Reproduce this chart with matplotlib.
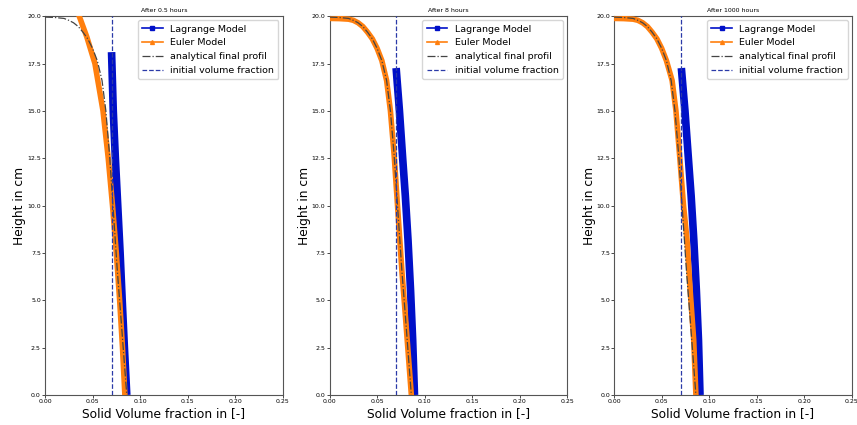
import numpy as np
import matplotlib.pyplot as plt
from matplotlib.lines import Line2D

# panel titles
titles = ['After 0.5 hours', 'After 8 hours', 'After 1000 hours']
phi_init = 0.07

# Lagrange model (solid volume fraction, height in cm)
lag_phi = [
    [0.0700, 0.0718, 0.0740, 0.0765, 0.0790, 0.0812, 0.0835, 0.0860],
    [0.0700, 0.0735, 0.0768, 0.0797, 0.0825, 0.0852, 0.0874, 0.0893],
    [0.0707, 0.0745, 0.0780, 0.0810, 0.0838, 0.0865, 0.0887, 0.0903],
]
lag_h = [
    [18.1, 15.0, 12.5, 10.0, 7.5, 5.0, 2.5, 0.0],
    [17.26, 15.0, 12.56, 10.5, 8.18, 5.5, 2.9, 0.0],
    [17.26, 15.0, 12.56, 10.5, 8.18, 5.5, 2.9, 0.0],
]

# Euler model
eul_phi = [
    [0.036, 0.044, 0.0525, 0.061, 0.0665, 0.071, 0.075, 0.0785, 0.0815, 0.084],
    [0.000, 0.010, 0.020, 0.025, 0.030, 0.035, 0.040, 0.045, 0.050, 0.055,
     0.060, 0.064, 0.068, 0.072, 0.076, 0.080, 0.083, 0.086],
    [0.000, 0.010, 0.020, 0.025, 0.030, 0.035, 0.040, 0.045, 0.050, 0.055,
     0.061, 0.065, 0.069, 0.073, 0.0767, 0.080, 0.0837, 0.086],
]
eul_h = [
    [20.0, 18.9, 17.5, 15.0, 12.5, 10.0, 7.5, 5.0, 2.5, 0.0],
    [19.88, 19.87, 19.84, 19.78, 19.65, 19.45, 19.15, 18.8, 18.3, 17.65,
     16.6, 15.0, 12.6, 9.6, 6.6, 4.0, 2.0, 0.0],
    [19.88, 19.87, 19.84, 19.78, 19.65, 19.45, 19.15, 18.8, 18.3, 17.65,
     16.6, 15.0, 12.56, 10.0, 8.18, 5.5, 2.9, 0.0],
]

# analytical final profile
ana_phi = [0.000, 0.010, 0.020, 0.025, 0.030, 0.035, 0.040, 0.045, 0.050, 0.055,
           0.060, 0.064, 0.068, 0.072, 0.076, 0.080, 0.083, 0.086]
ana_h = [19.95, 19.93, 19.88, 19.78, 19.65, 19.45, 19.15, 18.8, 18.3, 17.65,
         16.6, 15.0, 12.6, 9.6, 6.6, 4.0, 2.0, 0.0]

blue = '#0010c8'
orange = '#ff7f0e'
dash_blue = '#2b3aa8'

fig, axs = plt.subplots(1, 3, figsize=(8.57, 4.25), dpi=100)
fig.subplots_adjust(left=0.0525, right=0.994, bottom=0.0706, top=0.962, wspace=0.197)

for i, ax in enumerate(axs):
    ax.plot(ana_phi, ana_h, '-.', color='#444444', lw=0.9, zorder=4)
    ax.plot(eul_phi[i], eul_h[i], '-', color=orange, lw=4, zorder=3)
    ax.plot(lag_phi[i], lag_h[i], '-', color=blue, lw=5.5, zorder=2, solid_capstyle='butt')
    ax.axvline(phi_init, color=dash_blue, ls='--', lw=0.9, zorder=5)

    ax.set_xlim(0, 0.25)
    ax.set_ylim(0, 20)
    ax.set_xticks(np.arange(0, 0.26, 0.05))
    ax.set_yticks(np.arange(0, 20.1, 2.5))
    ax.tick_params(labelsize=4.5, length=2, width=0.5, pad=1)
    for s in ax.spines.values():
        s.set_color('#555555')
        s.set_linewidth(0.8)
    ax.set_title(titles[i], fontsize=4.5, pad=3)
    ax.set_xlabel('Solid Volume fraction in [-]', fontsize=8.8, labelpad=2)
    ax.set_ylabel('Height in cm', fontsize=8.8, labelpad=0.5)

    handles = [
        Line2D([], [], color=blue, marker='s', ms=2.8, lw=1.2),
        Line2D([], [], color=orange, marker='^', ms=2.8, lw=1.2),
        Line2D([], [], color='#444444', ls='-.', lw=0.9),
        Line2D([], [], color=dash_blue, ls='--', lw=0.9),
    ]
    labels = ['Lagrange Model', 'Euler Model', 'analytical final profil',
              'initial volume fraction']
    ax.legend(handles, labels, loc='upper right', fontsize=6.8,
              handlelength=2.2, borderpad=0.45, labelspacing=0.5,
              borderaxespad=0.45, framealpha=0.8)

fig.savefig('out.png', dpi=100)
